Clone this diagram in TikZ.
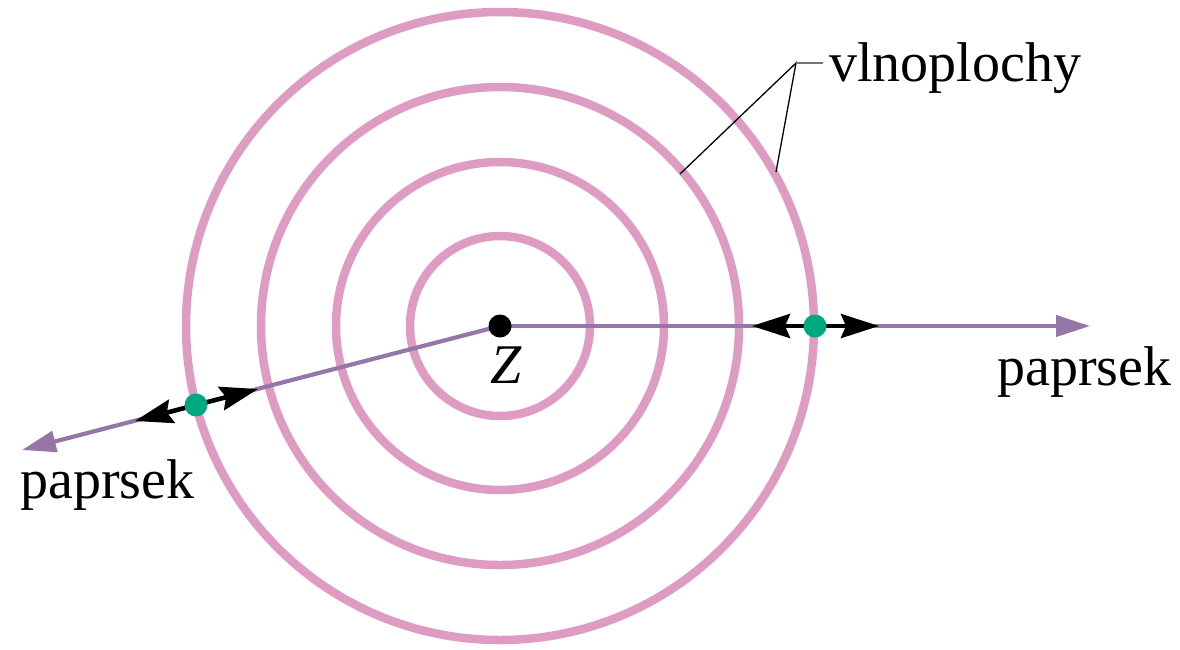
\documentclass[tikz,border=0pt]{standalone}
\usepackage{fontspec}
\setmainfont{Liberation Serif}
\usetikzlibrary{arrows.meta}
\definecolor{wave}{RGB}{222,156,194}
\definecolor{ray}{RGB}{150,118,168}
\definecolor{pt}{RGB}{0,168,128}
\begin{document}
\begin{tikzpicture}[x=1pt,y=-1pt,
  wavefront/.style={draw=wave,line width=8.5pt},
  rayline/.style={draw=ray,line width=4.2pt,-{Triangle[length=34pt,width=21pt]}},
  blackarr/.style={draw=black,line width=4.5pt,-{Stealth[length=38pt,width=24pt,inset=5pt]}},
  lbl/.style={font=\fontsize{56}{60}\selectfont,inner sep=0pt},
  leader/.style={draw=black,line width=1.3pt}]
\useasboundingbox (0,0) rectangle (1180,649);
\coordinate (Z) at (500,326);
\draw[wavefront] (Z) circle[radius=90];
\draw[wavefront] (Z) circle[radius=164];
\draw[wavefront] (Z) circle[radius=239];
\draw[wavefront] (Z) circle[radius=314];
\coordinate (rayR) at (1090,326);
\coordinate (rayL) at (22,450);
\coordinate (dotR) at (815,326);
\coordinate (dotL) at (196,405);
\coordinate (tipR1) at (752,326);
\coordinate (tipR2) at (879,326);
\coordinate (tipL1) at (135,421);
\coordinate (tipL2) at (258,389);
\draw[rayline] (Z) -- (rayR);
\draw[rayline] (Z) -- (rayL);
\draw[blackarr] (dotR) -- (tipR1);
\draw[blackarr] (dotR) -- (tipR2);
\draw[blackarr] (dotL) -- (tipL1);
\draw[blackarr] (dotL) -- (tipL2);
\fill[black] (Z) circle[radius=11.5];
\node[circle,fill=pt,minimum size=23pt,inner sep=0pt] (gR) at (dotR) {};
\node[circle,fill=pt,minimum size=23pt,inner sep=0pt] (gL) at (dotL) {};
\node[lbl,anchor=base] (zl) at (506,383) {\textit{Z}};
\node[lbl,anchor=base west] (pR) at (997,385) {paprsek};
\node[lbl,anchor=base west] (pL) at (20,498) {paprsek};
\node[lbl,anchor=base west] (vl) at (829,81) {vlnoplochy};
\coordinate (apex) at (796,63);
\coordinate (e1) at (680,174);
\coordinate (e2) at (776,172);
\coordinate (hEnd) at (823,63);
\draw[leader] (e1) -- (apex) -- (e2);
\draw[draw=black!55,line width=1.5pt] (apex) -- (hEnd);
\end{tikzpicture}
\end{document}
